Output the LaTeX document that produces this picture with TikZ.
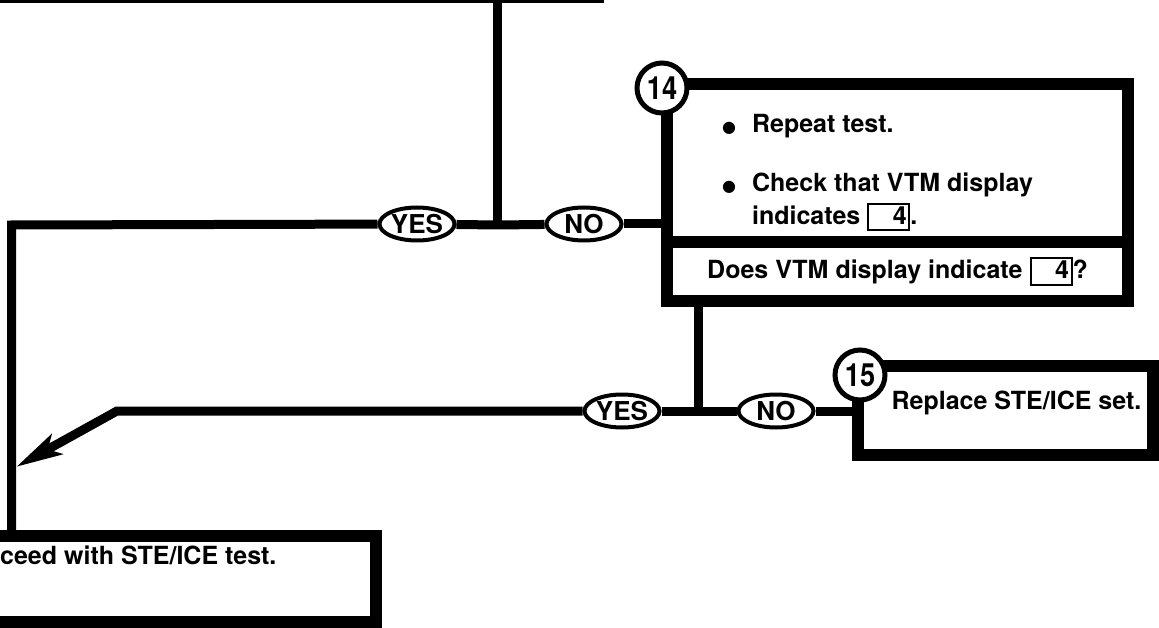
\documentclass[tikz,border=0pt]{standalone}
\usepackage{fontspec}
\setmainfont{TeX Gyre Heros}
\newfontfamily\symfont{DejaVu Sans}
\usepackage{graphicx}
\usetikzlibrary{arrows.meta,positioning,shapes.geometric}

\newcommand{\valbox}[1]{{\setlength{\fboxsep}{1.5pt}\setlength{\fboxrule}{2pt}%
  \fbox{\makebox[36pt][r]{\rule[-3.5pt]{0pt}{18pt}#1}}}}
\newcommand{\stepnum}[1]{\scalebox{0.85}[1]{\fontsize{32}{32}\selectfont #1}}
\newcommand{\dotmark}{{\symfont\fontsize{16}{16}\selectfont ●}\hspace{16pt}}

\begin{document}
\begin{tikzpicture}[x=1pt,y=-1pt,
  every node/.style={font=\fontsize{25}{33}\selectfont\bfseries},
  stepbox/.style={draw,line width=12pt,fill=white,inner sep=0pt},
  numcircle/.style={draw,circle,line width=5pt,fill=white,
                    minimum size=50pt,inner sep=0pt},
  answer/.style={draw,ellipse,line width=4pt,fill=white,
                 minimum width=75pt,minimum height=33pt,inner sep=0pt,
                 font=\fontsize{26}{26}\selectfont\bfseries},
  flow/.style={line width=9pt},
]
\useasboundingbox (0,0) rectangle (1159,628);

% step boxes
\node[stepbox,minimum width=648pt,minimum height=114pt] (prev) at (274,-60) {};
\node[stepbox,minimum width=461pt,minimum height=158pt,align=left] (box14) at (897.5,163)
  {\rule{0pt}{38pt}\dotmark Repeat test.\\[26pt]
   \dotmark Check that VTM display\rule{40pt}{0pt}\\
   \hphantom{\dotmark}indicates \valbox{4}.};
\node[stepbox,minimum width=461pt,minimum height=59pt] (ask14) at (897.5,271.5)
  {Does VTM display indicate \valbox{4}?};
\node[stepbox,minimum width=295pt,minimum height=89pt,text depth=21pt] (box15) at (1005.5,410.5)
  {\hspace*{22pt}Replace STE/ICE set.};
\node[stepbox,minimum width=480pt,minimum height=86pt] (proc) at (136,579) {};
\node[anchor=west,inner sep=0pt] (proctext) at (0,555) {ceed with STE/ICE test.};

% step numbers
\node[numcircle] (n14) at (662,88) {\stepnum{14}};
\node[numcircle] (n15) at (860,375) {\stepnum{15}};

% answers
\node[answer] (yes1) at (417,224) {YES};
\node[answer] (no1) at (584,224) {NO};
\node[answer] (yes2) at (622,411) {YES};
\node[answer] (no2) at (776,411) {NO};

\coordinate (j1) at (497.5,225);
\coordinate (c1) at (11.5,225);
\coordinate (j2) at (698,411);
\coordinate (k2) at (117,411);
\coordinate (m2) at (16,467);

% connectors
\draw[flow] (prev.south -| j1) -- (j1);
\draw[flow] (yes1) -- (j1) -- (no1);
\draw[flow] (no1) -- (no1 -| box14.west);
\draw[flow] (yes1) -- (c1) -- (c1 |- proc.north);
\draw[flow] (ask14.south -| j2) -- (j2);
\draw[flow] (yes2) -- (j2) -- (no2);
\draw[flow] (no2) -- (no2 -| box15.west);
\draw[flow,-{Stealth[length=46pt,width=22pt,inset=10pt]}] (yes2) -- (k2) -- (m2);
\end{tikzpicture}
\end{document}
